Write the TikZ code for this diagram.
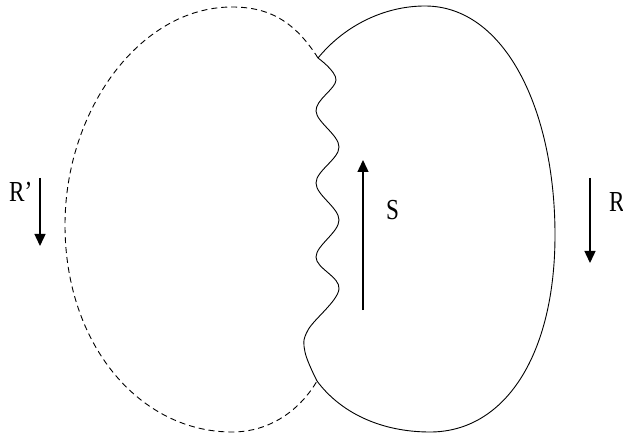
\documentclass[tikz,border=0pt]{standalone}
\usepackage{fontspec}
\setmainfont{Liberation Serif}
\usepackage{tikz}
\usetikzlibrary{arrows.meta}

\newcommand{\narrow}[1]{\scalebox{0.8}[1]{#1}}

\begin{document}
\begin{tikzpicture}[
    x=1pt, y=-1pt,
    rim/.style={line width=0.9pt, black},
    cut/.style={rim, dash pattern=on 6pt off 4pt},
    flow/.style={line width=1.4pt, -{Triangle[length=12pt, width=11pt]}},
    lbl/.style={anchor=base west, inner sep=0pt, font=\fontsize{29}{31}\selectfont}
]
    \useasboundingbox (0,0) rectangle (623,435);
    % junctions of the two lobes
    \coordinate (top) at (318,58);
    \coordinate (bot) at (317,381);
    % left lobe (dashed)
    \draw [cut] (top) .. controls (295,22) and (270,7) .. (232,7)
                       .. controls (140,7) and (65,110) .. (65,225)
                       .. controls (65,345) and (140,432) .. (232,432)
                       .. controls (270,432) and (300,410) .. (bot);
    % right lobe (solid)
    \draw [rim] (top) .. controls (345,25) and (385,6) .. (425,6)
                      .. controls (505,6) and (555,110) .. (555,235)
                      .. controls (555,355) and (505,432) .. (430,432)
                      .. controls (380,432) and (340,412) .. (bot);
    % wavy boundary
    \draw [rim] plot [smooth, tension=0.6] coordinates {
        (318,58) (336,80) (316,111) (339,147) (316,183) (339,220)
        (316,257) (339,289) (308,330) (305,352) (317,381)};
    % arrows
    \coordinate (rp1) at (40,178);  \coordinate (rp2) at (40,246);
    \coordinate (s1) at (363,310);  \coordinate (s2) at (363,160);
    \coordinate (r1) at (590,178);  \coordinate (r2) at (590,263);
    \draw [flow] (rp1) -- (rp2);
    \draw [flow] (s1) -- (s2);
    \draw [flow] (r1) -- (r2);
    \node [lbl] (rprime) at (9,202) {\narrow{R'}};
    \node [lbl] (slabel) at (386,220) {\narrow{S}};
    \node [lbl] (rlabel) at (609,212) {\narrow{R}};
\end{tikzpicture}
\end{document}
